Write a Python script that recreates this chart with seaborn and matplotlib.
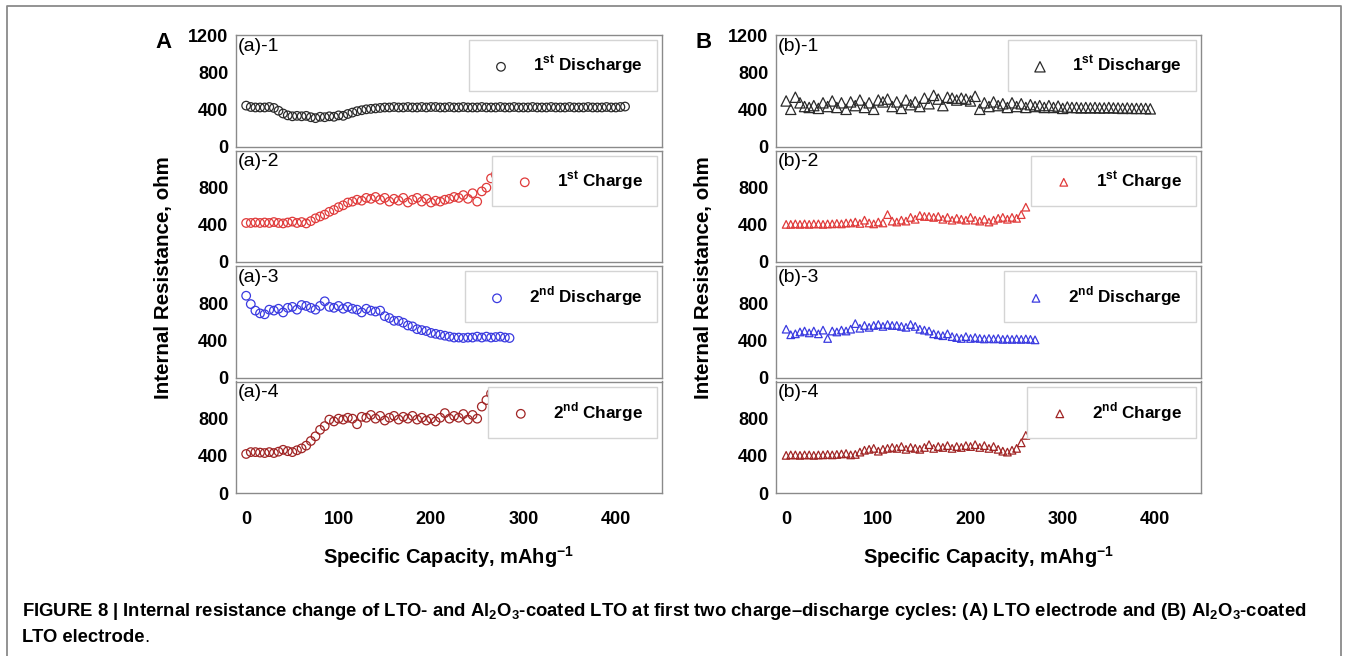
# -*- coding: utf-8 -*-
import matplotlib.pyplot as plt
import seaborn as sns
import numpy as np

"""
Internal resistance vs specific capacity, LTO (A) and Al2O3-coated LTO (B),
first two charge/discharge cycles.
"""

# specific capacity grid (mAh/g)
cap = [0, 5, 10, 15, 20, 25, 30, 35, 40, 45, 50, 55, 60, 65, 70, 75, 80, 85, 90, 95,
       100, 105, 110, 115, 120, 125, 130, 135, 140, 145, 150, 155, 160, 165, 170, 175,
       180, 185, 190, 195, 200, 205, 210, 215, 220, 225, 230, 235, 240, 245, 250, 255,
       260, 265, 270, 275, 280, 285, 290, 295, 300, 305, 310, 315, 320, 325, 330, 335,
       340, 345, 350, 355, 360, 365, 370, 375, 380, 385, 390, 395, 400, 405, 410]

# (A) LTO electrode
res_a1 = [440, 425, 420, 420, 420, 425, 415, 385, 355, 335, 325, 330, 325, 330, 315, 305,
          320, 315, 325, 320, 335, 330, 350, 365, 380, 390, 400, 405, 410, 415, 420, 420,
          425, 420, 420, 425, 420, 420, 425, 420, 425, 425, 420, 420, 425, 420, 420, 425,
          420, 420, 420, 425, 420, 420, 420, 425, 420, 420, 425, 420, 420, 420, 425, 420,
          420, 420, 425, 420, 420, 420, 425, 420, 420, 420, 425, 420, 420, 420, 425, 420,
          420, 425, 430]
res_a2 = [420, 420, 425, 420, 425, 420, 430, 420, 415, 425, 435, 420, 430, 415, 440, 470,
          490, 510, 540, 560, 590, 610, 640, 650, 670, 660, 690, 680, 700, 670, 690, 650,
          680, 660, 690, 640, 670, 690, 650, 680, 640, 660, 650, 670, 680, 700, 690, 720,
          680, 740, 650, 760, 800, 900, 940]
res_a3 = [880, 790, 720, 690, 680, 730, 720, 740, 700, 750, 760, 730, 780, 770, 750, 730,
          770, 820, 760, 750, 770, 740, 760, 740, 730, 700, 740, 720, 710, 720, 660, 640,
          610, 610, 590, 560, 550, 520, 510, 500, 480, 470, 460, 450, 440, 430, 430, 425,
          430, 430, 440, 430, 440, 430, 435, 440, 430, 425]
res_a4 = [420, 440, 440, 435, 430, 440, 430, 445, 465, 450, 440, 460, 480, 510, 560, 610,
          680, 720, 790, 770, 800, 790, 810, 800, 740, 820, 810, 840, 800, 830, 780, 810,
          830, 790, 820, 800, 830, 790, 810, 780, 800, 770, 810, 860, 800, 830, 810, 850,
          790, 840, 800, 930, 1000, 1070]

# (B) Al2O3-coated LTO electrode
res_b1 = [490, 400, 530, 470, 430, 420, 440, 410, 470, 430, 490, 420, 470, 400, 480, 440,
          500, 420, 470, 400, 500, 480, 510, 430, 480, 410, 500, 450, 480, 430, 520, 460,
          550, 510, 440, 530, 520, 500, 520, 510, 490, 540, 400, 470, 430, 480, 440, 460,
          420, 470, 430, 460, 420, 450, 430, 440, 420, 440, 420, 435, 410, 425, 420, 420,
          415, 420, 415, 420, 415, 415, 420, 415, 415, 410, 415, 410, 410, 410, 410, 405]
res_b2 = [405, 405, 410, 405, 410, 405, 410, 410, 405, 410, 410, 415, 410, 420, 420, 430,
          415, 450, 420, 410, 430, 420, 510, 440, 430, 450, 440, 480, 460, 500, 490, 490,
          480, 490, 460, 480, 450, 470, 460, 450, 480, 450, 440, 460, 430, 450, 470, 480,
          460, 480, 470, 510, 590]
res_b3 = [520, 460, 470, 490, 500, 480, 500, 470, 510, 420, 500, 490, 510, 500, 520, 580,
          530, 560, 540, 560, 570, 550, 570, 560, 560, 550, 540, 570, 550, 520, 510, 500,
          470, 460, 450, 470, 440, 430, 420, 440, 420, 430, 420, 415, 420, 415, 420, 410,
          415, 410, 415, 410, 415, 410, 405]
res_b4 = [405, 410, 410, 405, 410, 410, 405, 410, 410, 415, 410, 415, 420, 425, 410, 415,
          440, 460, 470, 480, 450, 470, 480, 490, 480, 500, 470, 490, 480, 470, 490, 520,
          480, 500, 490, 510, 480, 500, 490, 510, 500, 520, 490, 510, 480, 500, 470, 450,
          440, 460, 480, 540, 620]

legend_labels = [r"1$^{\mathbf{st}}$ Discharge", r"1$^{\mathbf{st}}$ Charge",
                 r"2$^{\mathbf{nd}}$ Discharge", r"2$^{\mathbf{nd}}$ Charge"]
colors = ['#2a2a2a', '#e03a3a', '#3a3ae0', '#a02424']
x_ticks = [0, 100, 200, 300, 400]

W, H = 1352, 656


def plotPanel(fig, left, right, series, marker, msizes, letter, tag):
    top0, ph, gap = 35, 111.5, 4
    axes = []
    for i, res in enumerate(series):
        top = top0 + i * (ph + gap)
        ax = fig.add_axes([left / W, 1 - (top + ph) / H, (right - left) / W, ph / H])
        sns.scatterplot(x=cap[:len(res)], y=res, marker=marker, s=msizes[i],
                        facecolor='none', edgecolor=colors[i], linewidth=0.9,
                        label=legend_labels[i], ax=ax)
        ax.set_xlim(-11, 450)
        ax.set_ylim(0, 1200)
        ax.set_xticks(x_ticks)
        ax.set_yticks([0, 400, 800, 1200] if i == 0 else [0, 400, 800])
        ax.tick_params(direction='out', length=4, width=1, color='#808080',
                       labelsize=13, pad=1.5, labelcolor='black')
        ax.tick_params(axis='x', pad=9)
        if i < 3:
            ax.set_xticklabels([])
        for sp in ax.spines.values():
            sp.set_color('#8a8a8a')
            sp.set_linewidth(1)
        ax.text(0.005, 0.975, "(%s)-%d" % (tag, i + 1), transform=ax.transAxes,
                ha='left', va='top', fontsize=14, fontweight='normal')
        leg = ax.legend(loc='upper right', bbox_to_anchor=(1, 1), borderaxespad=0.3,
                        frameon=True, fancybox=False, framealpha=1,
                        edgecolor='#d4d4d4', borderpad=0.8, handlelength=2.2,
                        handletextpad=0.8, prop={'weight': 'bold', 'size': 12.3})
        leg.get_frame().set_linewidth(1)
        axes.append(ax)
    fig.text((left - 72) / W, 1 - 42 / H, letter, fontsize=16, fontweight='bold',
             ha='center', va='center')
    fig.text((left - 72) / W, 1 - 278 / H, "Internal Resistance, ohm", rotation=90,
             fontsize=14.8, fontweight='bold', ha='center', va='center')
    fig.text((left + right) / 2 / W, 1 - 557 / H, r"Specific Capacity, mAhg$^{\mathbf{-1}}$",
             fontsize=14.4, fontweight='bold', ha='center', va='center')
    return axes


if __name__ == '__main__':
    sns.set_style('white')
    plt.rcParams['font.family'] = ['Liberation Sans', 'DejaVu Sans']
    plt.rcParams['font.weight'] = 'bold'
    plt.rcParams['text.color'] = 'black'
    plt.rcParams['mathtext.fontset'] = 'custom'
    plt.rcParams['mathtext.rm'] = 'Liberation Sans'
    plt.rcParams['mathtext.bf'] = 'Liberation Sans:bold'

    fig = plt.figure(figsize=(W / 100, H / 100), dpi=100)
    fig.patch.set_facecolor('white')

    plotPanel(fig, 236, 662, [res_a1, res_a2, res_a3, res_a4], 'o',
              [38, 38, 38, 38], 'A', 'a')
    plotPanel(fig, 776, 1201, [res_b1, res_b2, res_b3, res_b4], '^',
              [55, 30, 30, 30], 'B', 'b')

    # outer frame and caption
    bg = fig.add_axes([0, 0, 1, 1], zorder=-1)
    bg.set_xlim(0, W)
    bg.set_ylim(H, 0)
    bg.axis('off')
    bg.plot([7, 7, 1341, 1341], [H, 6, 6, H], color='#8a8a8a', lw=1.3)
    cap1 = (r"FIGURE 8 | Internal resistance change of LTO- and Al$_\mathbf{2}$O$_\mathbf{3}$-coated "
            r"LTO at first two charge–discharge cycles: (A) LTO electrode and (B) "
            r"Al$_\mathbf{2}$O$_\mathbf{3}$-coated")
    bg.text(22, 612, cap1, fontsize=13.3, fontweight='bold', ha='left', va='center')
    t2 = bg.text(22, 638, "LTO electrode", fontsize=13.3, fontweight='bold',
                 ha='left', va='center')
    bg.annotate(".", xy=(1, 0), xycoords=t2, fontsize=13.3, fontweight='normal',
                ha='left', va='bottom')

    plt.savefig('out.png', dpi=100)
    plt.close('all')
